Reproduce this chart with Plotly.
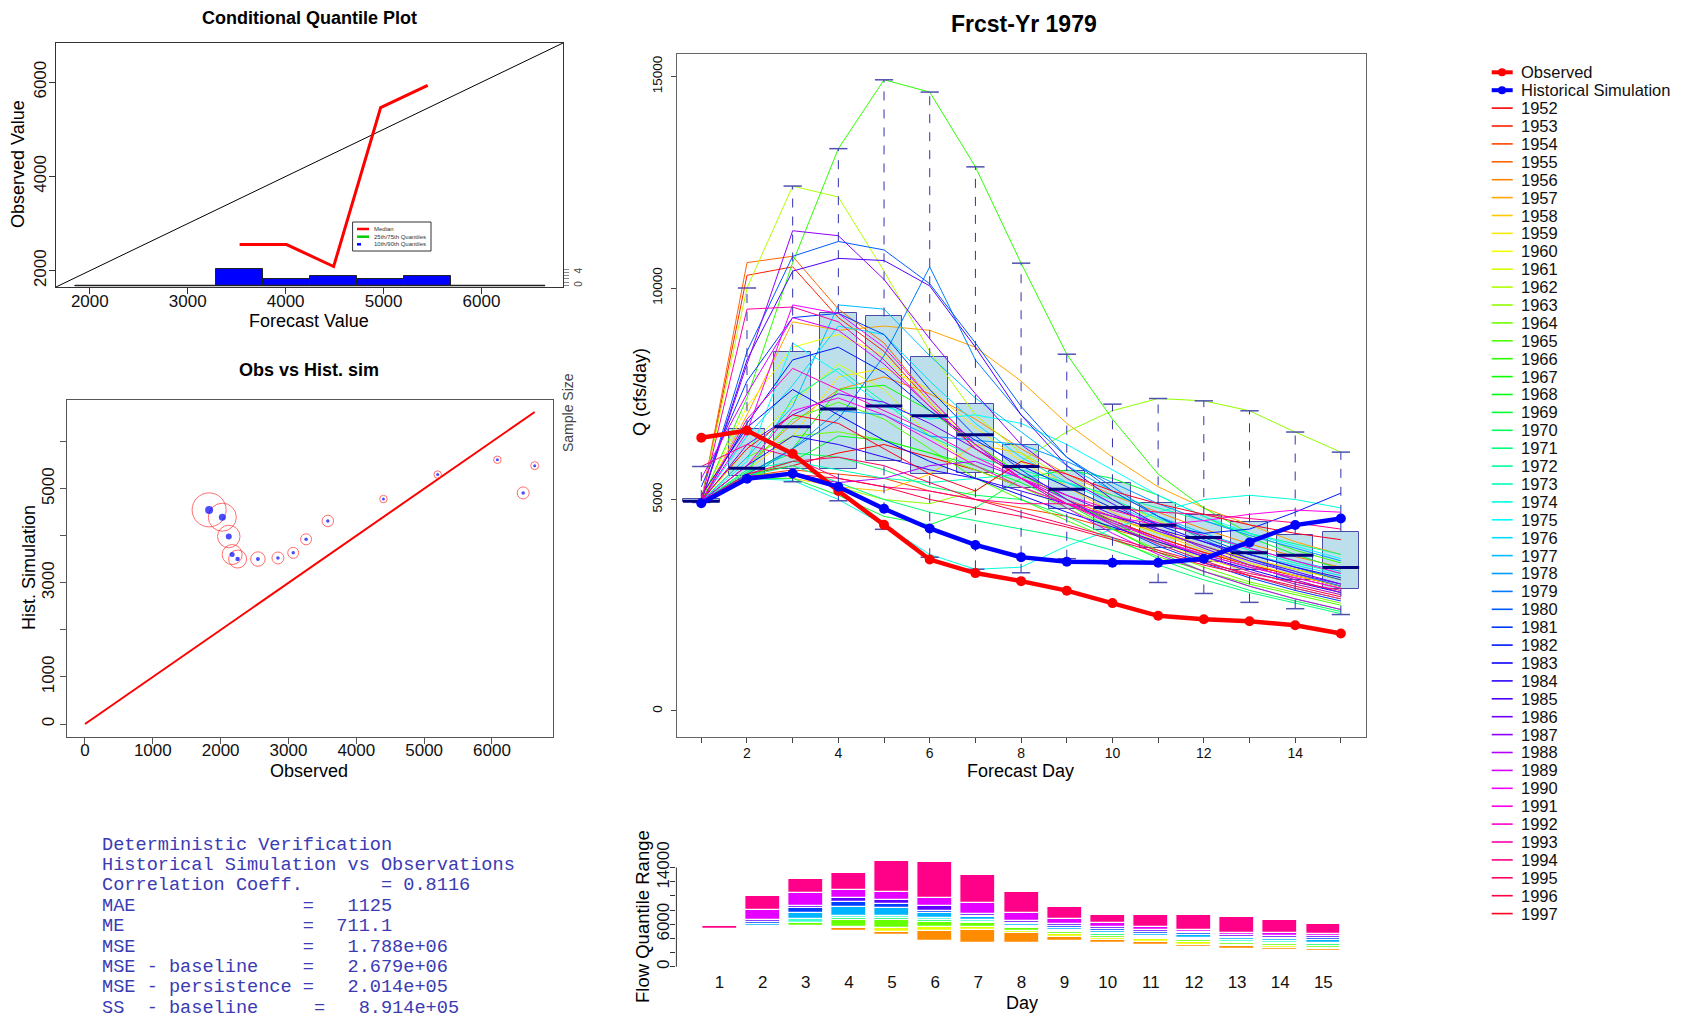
import colorsys
import plotly.graph_objects as go

W, H = 1684, 1014
FONT = "Liberation Sans, Arial, sans-serif"
MONO = "Liberation Mono, Courier New, monospace"

# ---------------- forecast days and verification series ----------------
days = list(range(1, 16))
day_ticktext = ["", "2", "", "4", "", "6", "", "8", "", "10", "", "12", "", "14", ""]
observed = [6460, 6630, 6080, 5200, 4400, 3580, 3260, 3070, 2845, 2550, 2250, 2170, 2120, 2025, 1830]
hist_sim = [4910, 5490, 5615, 5300, 4780, 4315, 3925, 3637, 3528, 3505, 3505, 3600, 3985, 4395, 4550]

# box plot statistics of the ensemble for each forecast day
ens_min = [4930, 5480, 5420, 4970, 4295, 3635, 3350, 3268, 3600, 3480, 3038, 2778, 2568, 2418, 2280]
ens_q1 = [4940, 5550, 5715, 5725, 5903, 5600, 5630, 5275, 4765, 4275, 3863, 3532, 3345, 3105, 2890]
ens_med = [4960, 5740, 6720, 7137, 7208, 6979, 6531, 5779, 5241, 4810, 4393, 4100, 3740, 3680, 3390]
ens_q3 = [5010, 6665, 8498, 9405, 9327, 8365, 7260, 6282, 5682, 5382, 4907, 4630, 4460, 4172, 4235]
ens_max = [5780, 10000, 12410, 13294, 14922, 14632, 12864, 10587, 8435, 7254, 7387, 7332, 7097, 6595, 6120]
main_yticks = [0, 5000, 10000, 15000]
main_ytext = ["0", "5000", "10000", "15000"]

# ensemble traces, one per historical year
flow_1952 = [4950, 5600, 5800, 6100, 6300, 6000, 5700, 5300, 4900, 4500, 4100, 3750, 3450, 3200, 2950]
flow_1953 = [4960, 10300, 10500, 9300, 8500, 7300, 6200, 5500, 4900, 4500, 4100, 3750, 3450, 3200, 2950]
flow_1954 = [4940, 5550, 5700, 5600, 5500, 5200, 5000, 4800, 4600, 4300, 4000, 3700, 3400, 3150, 2900]
flow_1955 = [4950, 10600, 10750, 9500, 8700, 7400, 6300, 5600, 5000, 4600, 4200, 3900, 3600, 3350, 3100]
flow_1956 = [4970, 5800, 6800, 7600, 7900, 7500, 6900, 6200, 5600, 5100, 4700, 4300, 3950, 3650, 3400]
flow_1957 = [4960, 7000, 9200, 9000, 9100, 9000, 8600, 7800, 6800, 6000, 5300, 4800, 4400, 4000, 3700]
flow_1958 = [4950, 5500, 5500, 5300, 5200, 5600, 6300, 6100, 5300, 4700, 4200, 3800, 3450, 3100, 2800]
flow_1959 = [4940, 5700, 6500, 7900, 8100, 7600, 6700, 5900, 5300, 4800, 4300, 3900, 3500, 3200, 2950]
flow_1960 = [5000, 7200, 8600, 8900, 8400, 7300, 6300, 5600, 5000, 4500, 4000, 3600, 3300, 3000, 2750]
flow_1961 = [4950, 6200, 7300, 8200, 7600, 6500, 5800, 5300, 4900, 4550, 4200, 3900, 3600, 3350, 3100]
flow_1962 = [4980, 10000, 12410, 12150, 10400, 8500, 7000, 6100, 5500, 5000, 4500, 4100, 3700, 3400, 3150]
flow_1963 = [4950, 5600, 5600, 5300, 5000, 4900, 5200, 5900, 6600, 7100, 7387, 7332, 7097, 6595, 6120]
flow_1964 = [4960, 6000, 6500, 6600, 6400, 6100, 5700, 5300, 4800, 4300, 3800, 3400, 3050, 2800, 2550]
flow_1965 = [4950, 5700, 6900, 7300, 6900, 6200, 5500, 5000, 4500, 4050, 3650, 3300, 3000, 2750, 2500]
flow_1966 = [4960, 7400, 10600, 13294, 14922, 14632, 12864, 10587, 8435, 6900, 5600, 4800, 4200, 3800, 3500]
flow_1967 = [4940, 5600, 6200, 7600, 7700, 7100, 6300, 5600, 5000, 4450, 3950, 3550, 3200, 2900, 2650]
flow_1968 = [4950, 5550, 5900, 6500, 6400, 6100, 5800, 5400, 4900, 4300, 3750, 3300, 2950, 2650, 2400]
flow_1969 = [4950, 5500, 5500, 5100, 4600, 4400, 4800, 5500, 5700, 5500, 5100, 4600, 4100, 3700, 3350]
flow_1970 = [4960, 5650, 6100, 6000, 5700, 5300, 5100, 5000, 4600, 4100, 3600, 3200, 2850, 2600, 2350]
flow_1971 = [4950, 5550, 5800, 5400, 5000, 4700, 4500, 4300, 4100, 3800, 3450, 3100, 2800, 2550, 2300]
flow_1972 = [4940, 5600, 7400, 8100, 7300, 6500, 6000, 5700, 5400, 5100, 4800, 4500, 4200, 3950, 3700]
flow_1973 = [4950, 5700, 5900, 5700, 5500, 5400, 5500, 5600, 5400, 5000, 4550, 4150, 3800, 3500, 3250]
flow_1974 = [4950, 5500, 5450, 5000, 4400, 3700, 3350, 3400, 3900, 4300, 4700, 5000, 5100, 5000, 4800]
flow_1975 = [4960, 5900, 8700, 8000, 7200, 6900, 7000, 6800, 6300, 5700, 5100, 4600, 4200, 3900, 3600]
flow_1976 = [4970, 6500, 7700, 9100, 8900, 7800, 6800, 6000, 5400, 4900, 4400, 4000, 3700, 3450, 3200]
flow_1977 = [4950, 6000, 7200, 9600, 9500, 8400, 7400, 6600, 5800, 5200, 4600, 4200, 3850, 3550, 3300]
flow_1978 = [4950, 5500, 6200, 7100, 7000, 6500, 6400, 6300, 5900, 5400, 4900, 4500, 4150, 3850, 3550]
flow_1979 = [4960, 5600, 6200, 6900, 8400, 10500, 8300, 7000, 6000, 5300, 4600, 4050, 3600, 3250, 2950]
flow_1980 = [4950, 8500, 10750, 11100, 10900, 10100, 8700, 7200, 6000, 5200, 4600, 4100, 3700, 3400, 3100]
flow_1981 = [5300, 7800, 9300, 9400, 8900, 7600, 6500, 5700, 5000, 4400, 3900, 3500, 3150, 2850, 2600]
flow_1982 = [4950, 6800, 8300, 8600, 8000, 7100, 6400, 5800, 5300, 4800, 4400, 4200, 4300, 4700, 5150]
flow_1983 = [5100, 6700, 7600, 7000, 6400, 5900, 5500, 5100, 4700, 4350, 4000, 3650, 3350, 3050, 2800]
flow_1984 = [4950, 5800, 6500, 6300, 6000, 5700, 5500, 5200, 4900, 4600, 4300, 4000, 3700, 3400, 3150]
flow_1985 = [4960, 8300, 10400, 10700, 10650, 10050, 8600, 7000, 5800, 5000, 4400, 4000, 3600, 3300, 3000]
flow_1986 = [4950, 6300, 7000, 7500, 7300, 6800, 6200, 5600, 5100, 4650, 4250, 3900, 3550, 3250, 3000]
flow_1987 = [4970, 8200, 11354, 11236, 10203, 8800, 7500, 6300, 5500, 4900, 4300, 3850, 3450, 3100, 2800]
flow_1988 = [4950, 5550, 5600, 5400, 5500, 5800, 5900, 5500, 5000, 4500, 4050, 3650, 3300, 3000, 2750]
flow_1989 = [5500, 7500, 9300, 9000, 8200, 7200, 6300, 5500, 4800, 4200, 3700, 3300, 2950, 2650, 2400]
flow_1990 = [4960, 6600, 9600, 9400, 8600, 7400, 6300, 5500, 4900, 4450, 4050, 3700, 3400, 3150, 2900]
flow_1991 = [4950, 5800, 7100, 7400, 7000, 6400, 5800, 5300, 4900, 4600, 4400, 4500, 4650, 4750, 4700]
flow_1992 = [4940, 6900, 8100, 7600, 7100, 6600, 6000, 5500, 5100, 4750, 4450, 4150, 3850, 3550, 3250]
flow_1993 = [4960, 9500, 9550, 9200, 8300, 7200, 6200, 5500, 4900, 4400, 3950, 3550, 3200, 2900, 2650]
flow_1994 = [5780, 6300, 6000, 5500, 5300, 5200, 5000, 4900, 4900, 4800, 4700, 4650, 4550, 4450, 4300]
flow_1995 = [4950, 5600, 5900, 6000, 5800, 5400, 5000, 4700, 4400, 4100, 3800, 3500, 3250, 3050, 2850]
flow_1996 = [4950, 5550, 5600, 5500, 5300, 5000, 4800, 4600, 4350, 4050, 3750, 3450, 3200, 2950, 2700]
flow_1997 = [5000, 6200, 7000, 6800, 6200, 5600, 5200, 5900, 5600, 5200, 4900, 4650, 4400, 4200, 4050]

years = list(range(1952, 1998))
ensemble = [flow_1952, flow_1953, flow_1954, flow_1955, flow_1956, flow_1957, flow_1958, flow_1959,
            flow_1960, flow_1961, flow_1962, flow_1963, flow_1964, flow_1965, flow_1966, flow_1967,
            flow_1968, flow_1969, flow_1970, flow_1971, flow_1972, flow_1973, flow_1974, flow_1975,
            flow_1976, flow_1977, flow_1978, flow_1979, flow_1980, flow_1981, flow_1982, flow_1983,
            flow_1984, flow_1985, flow_1986, flow_1987, flow_1988, flow_1989, flow_1990, flow_1991,
            flow_1992, flow_1993, flow_1994, flow_1995, flow_1996, flow_1997]

# flow quantile bands (decile boundaries) per day
q00 = [5318, 5741, 5741, 5082, 4424, 3670, 3294, 3294, 3576, 3388, 3059, 2776, 2541, 2400, 2259]
q10 = [5318, 5741, 5741, 5400, 4941, 4990, 5130, 4700, 4200, 3700, 3500, 3100, 2890, 2700, 2450]
q20 = [5318, 5741, 5741, 5553, 5506, 5650, 5650, 5100, 4600, 4094, 3859, 3480, 3060, 2900, 2700]
q30 = [5318, 5741, 6118, 6540, 6540, 6280, 6100, 5459, 4850, 4300, 4050, 3700, 3294, 3150, 2900]
q40 = [5318, 5741, 6212, 6870, 6870, 6640, 6300, 5553, 5000, 4550, 4235, 3900, 3530, 3400, 3150]
q50 = [5318, 5741, 6700, 7200, 7200, 6940, 6550, 5780, 5240, 4810, 4393, 4100, 3740, 3680, 3390]
q60 = [5318, 6071, 7577, 8420, 8330, 7624, 6950, 6024, 5459, 5050, 4600, 4420, 4000, 3850, 3700]
q70 = [5318, 6306, 8235, 9180, 8800, 7860, 7100, 6200, 5700, 5300, 4894, 4706, 4235, 4000, 4000]
q80 = [5318, 6640, 8610, 9650, 9365, 8520, 7480, 6400, 6024, 5553, 5150, 4900, 4470, 4330, 4300]
q90 = [5318, 8050, 10400, 10780, 10494, 9650, 9035, 7600, 6800, 6118, 5600, 5130, 4750, 4750, 4660]
q100 = [5741, 9977, 12424, 13270, 14965, 14730, 12941, 10589, 8377, 7247, 7247, 7247, 7012, 6541, 6024]
quantile_levels = [q00, q10, q20, q30, q40, q50, q60, q70, q80, q90, q100]
band_colors = ["#ff8c00", "#e6ff00", "#66ff00", "#00ff66", "#40ffd0",
               "#00b4ff", "#0040ff", "#6000ff", "#e600ff", "#ff0088"]
flowq_ticks = [0, 2000, 4000, 6000, 8000, 10000, 12000, 14000]
flowq_text = ["0", "", "", "6000", "", "", "", "14000"]

# conditional quantile plot
hist_edges = [1850, 2330, 2810, 3290, 3770, 4250, 4730, 5210, 5690, 6170, 6650]
hist_counts = [0, 0, 0, 5, 2, 3, 2, 3, 0, 0]
cq_fcst = [3530, 4010, 4490, 4970, 5450]
cq_median_obs = [2555, 2555, 2090, 5460, 5935]
cq_ticks = [2000, 3000, 4000, 5000, 6000]

# observed vs historical simulation scatter (one point per forecast day)
ring_size = [12, 8, 7.5, 7.5, 7.5, 11.5, 11, 11, 12, 14.5, 18, 20, 22.5, 28, 34]
dot_size = [3.5, 3, 3, 3, 3, 3.5, 3.5, 3.5, 3.5, 4, 4.5, 5, 6, 7, 8]
ovh_ticks = [0, 1000, 2000, 3000, 4000, 5000, 6000]
ovh_ytext = ["0", "1000", "", "3000", "", "5000", ""]

# verification summary text
summary_lines = [
    "Deterministic Verification",
    "Historical Simulation vs Observations",
    "Correlation Coeff.       = 0.8116",
    "MAE               =   1125",
    "ME                =  711.1",
    "MSE               =   1.788e+06",
    "MSE - baseline    =   2.679e+06",
    "MSE - persistence =   2.014e+05",
    "SS  - baseline     =   8.914e+05",
]


def rainbow(n):
    out = []
    for i in range(n):
        r, g, b = colorsys.hsv_to_rgb(i / n, 1.0, 1.0)
        out.append("#%02x%02x%02x" % (round(r * 255), round(g * 255), round(b * 255)))
    return out


def fx(px):
    return px / W


def fy(py):
    return 1 - py / H


year_colors = rainbow(len(years))

fig = go.Figure()
annotations = []
shapes = []


def label(text, x, y, size, angle=0, bold=False, color="#000", family=FONT, anchor="center"):
    annotations.append(dict(
        text=("<b>%s</b>" % text) if bold else text, x=fx(x), y=fy(y), xref="paper", yref="paper",
        showarrow=False, textangle=angle, xanchor=anchor, yanchor="middle",
        font=dict(size=size, color=color, family=family)))


# ================= Conditional Quantile Plot =================
cq_range = [1655, 6832]
fig.add_trace(go.Scatter(x=cq_range, y=cq_range, mode="lines", line=dict(color="black", width=1),
                         xaxis="x", yaxis="y", showlegend=False, hoverinfo="skip"))
fig.add_trace(go.Bar(x=[(hist_edges[i] + hist_edges[i + 1]) / 2 for i in range(len(hist_counts))],
                     y=hist_counts, width=[hist_edges[i + 1] - hist_edges[i] for i in range(len(hist_counts))],
                     marker=dict(color="blue", line=dict(color="#222", width=1)),
                     xaxis="x", yaxis="y2", showlegend=False))
fig.add_trace(go.Scatter(x=[hist_edges[0], hist_edges[-1]], y=[0, 0], mode="lines",
                         line=dict(color="#222", width=1.5), xaxis="x", yaxis="y2",
                         showlegend=False, hoverinfo="skip"))
fig.add_trace(go.Scatter(x=cq_fcst, y=cq_median_obs, mode="lines", line=dict(color="red", width=3),
                         xaxis="x", yaxis="y", showlegend=False))

# legend box inside the quantile plot
shapes.append(dict(type="rect", xref="paper", yref="paper", x0=fx(352.6), x1=fx(431), y0=fy(251), y1=fy(222),
                   line=dict(color="#333", width=1), fillcolor="white"))
for yy, col, dash, txt in [(229, "red", "solid", "Median"),
                           (236.7, "#00cc00", "solid", "25th/75th Quantiles"),
                           (244.3, "blue", "dot", "10th/90th Quantiles")]:
    shapes.append(dict(type="line", xref="paper", yref="paper", x0=fx(357), x1=fx(369) if dash == "solid" else fx(361),
                       y0=fy(yy), y1=fy(yy), line=dict(color=col, width=2.5)))
    label(txt, 372, yy, 6, color="#333", anchor="left")

label("Conditional Quantile Plot", 309, 18, 18, bold=True)
label("Forecast Value", 309, 321, 18)
label("Observed Value", 18, 164, 18, angle=-90)

# ================= Obs vs Hist. sim =================
ovh_end = max(observed)
fig.add_trace(go.Scatter(x=[0, ovh_end], y=[0, ovh_end], mode="lines", line=dict(color="red", width=2),
                         xaxis="x2", yaxis="y3", showlegend=False))
fig.add_trace(go.Scatter(x=observed, y=hist_sim, mode="markers",
                         marker=dict(size=ring_size, color="rgba(0,0,0,0)", line=dict(color="#ff3030", width=1)),
                         xaxis="x2", yaxis="y3", showlegend=False))
fig.add_trace(go.Scatter(x=observed, y=hist_sim, mode="markers",
                         marker=dict(size=dot_size, color="blue", line=dict(width=0)),
                         xaxis="x2", yaxis="y3", showlegend=False))
label("Obs vs Hist. sim", 309, 370, 18, bold=True)
label("Observed", 309, 771, 18)
label("Hist. Simulation", 29, 568, 18, angle=-90)
label("Sample Size", 568, 413, 14, angle=-90, color="#444")

# ================= Verification summary =================
for i, line in enumerate(summary_lines):
    label(line.replace(" ", "\u00a0"), 100, 845 + i * 20.4, 18.6, color="#3b3bb3", family=MONO, anchor="left")

# ================= Main ensemble plot =================
for yr, col, vals in zip(years, year_colors, ensemble):
    fig.add_trace(go.Scatter(x=days, y=vals, mode="lines", line=dict(color=col, width=1),
                             xaxis="x3", yaxis="y4", showlegend=False, name=str(yr)))

fig.add_trace(go.Bar(x=days, base=ens_q1, y=[b - a for a, b in zip(ens_q1, ens_q3)], width=0.8,
                     marker=dict(color="rgba(173,216,230,0.82)", line=dict(color="#4a4aa8", width=1)),
                     xaxis="x3", yaxis="y4", showlegend=False))


def segs(xc, yv, half):
    xs, ys = [], []
    for x, y in zip(xc, yv):
        xs += [x - half, x + half, None]
        ys += [y, y, None]
    return xs, ys


def vsegs(xc, y0, y1):
    xs, ys = [], []
    for x, a, b in zip(xc, y0, y1):
        xs += [x, x, None]
        ys += [a, b, None]
    return xs, ys


wx, wy = vsegs(days, ens_q3, ens_max)
fig.add_trace(go.Scatter(x=wx, y=wy, mode="lines", line=dict(color="#3030b0", width=1, dash="dash"),
                         xaxis="x3", yaxis="y4", showlegend=False, hoverinfo="skip"))
wx, wy = vsegs(days, ens_min, ens_q1)
fig.add_trace(go.Scatter(x=wx, y=wy, mode="lines", line=dict(color="#3030b0", width=1, dash="dash"),
                         xaxis="x3", yaxis="y4", showlegend=False, hoverinfo="skip"))
for arr in (ens_max, ens_min):
    cx, cy = segs(days, arr, 0.2)
    fig.add_trace(go.Scatter(x=cx, y=cy, mode="lines", line=dict(color="#5050b0", width=1.5),
                             xaxis="x3", yaxis="y4", showlegend=False, hoverinfo="skip"))
mx, my = segs(days, ens_med, 0.4)
fig.add_trace(go.Scatter(x=mx, y=my, mode="lines", line=dict(color="#000080", width=3),
                         xaxis="x3", yaxis="y4", showlegend=False, hoverinfo="skip"))

fig.add_trace(go.Scatter(x=days, y=observed, mode="lines+markers", line=dict(color="red", width=4.5),
                         marker=dict(size=10, color="red"), xaxis="x3", yaxis="y4", showlegend=False))
fig.add_trace(go.Scatter(x=days, y=hist_sim, mode="lines+markers", line=dict(color="blue", width=4.5),
                         marker=dict(size=10, color="blue"), xaxis="x3", yaxis="y4", showlegend=False))

label("Frcst-Yr 1979", 1024, 24, 23, bold=True)
label("Forecast Day", 1021, 771, 18)
label("Q (cfs/day)", 640, 392, 18, angle=-90)

# ================= Flow quantile range bars =================
for k in range(len(band_colors)):
    lo, hi = quantile_levels[k], quantile_levels[k + 1]
    fig.add_trace(go.Bar(x=days, base=lo, y=[b - a for a, b in zip(lo, hi)], width=0.81,
                         marker=dict(color=band_colors[k], line=dict(color="white", width=1.2)),
                         xaxis="x4", yaxis="y5", showlegend=False))
shapes.append(dict(type="line", xref="x4 domain", yref="y5", x0=0, x1=0, y0=0, y1=14000,
                   line=dict(color="#333", width=1)))
label("Day", 1022, 1003, 18)
label("Flow Quantile Range", 642, 917, 18.5, angle=-90)

# ================= Legend =================
legend_items = [("Observed", "red", True), ("Historical Simulation", "blue", True)] + \
               [(str(y), c, False) for y, c in zip(years, year_colors)]
for i, (txt, col, thick) in enumerate(legend_items):
    yc = 72.3 + i * 17.9
    shapes.append(dict(type="line", xref="paper", yref="paper", x0=fx(1491.7), x1=fx(1512.7),
                       y0=fy(yc), y1=fy(yc), line=dict(color=col, width=4 if thick else 1.6)))
    if thick:
        shapes.append(dict(type="circle", xref="paper", yref="paper", x0=fx(1498), x1=fx(1506),
                           y0=fy(yc + 4), y1=fy(yc - 4), fillcolor=col, line=dict(color=col, width=0)))
    label(txt, 1519, yc, 16.5, color="#111", anchor="left")

# ================= Axes =================
tick_font = dict(family=FONT, size=17, color="#111")
box_axis = dict(showgrid=False, zeroline=False, showline=True, mirror=True, ticks="outside",
                ticklen=6, tickwidth=1, automargin=False)

fig.update_layout(
    width=W, height=H, margin=dict(l=0, r=0, t=0, b=0, pad=0, autoexpand=False),
    paper_bgcolor="white", plot_bgcolor="white", barmode="overlay", bargap=0,
    showlegend=False, font=dict(family=FONT),
    xaxis=dict(**box_axis, domain=[fx(56), fx(563)], range=cq_range, anchor="y", tickvals=cq_ticks,
               linecolor="#333", tickcolor="#333", tickfont=tick_font, ticklabelstandoff=-7),
    yaxis=dict(**box_axis, domain=[fy(287), fy(43)], range=cq_range, anchor="x", tickvals=[2000, 4000, 6000],
               linecolor="#333", tickcolor="#333", tickfont=tick_font, tickangle=-90, ticklabelstandoff=-4),
    yaxis2=dict(overlaying="y", side="right", anchor="x", range=[-0.45, 73.5], showgrid=False, zeroline=False,
                showline=False, ticks="outside", ticklen=5, tickcolor="#888", tickvals=[0, 1, 2, 3, 4, 5],
                ticktext=["0", "", "", "", "4", ""], tickangle=-90, automargin=False,
                tickfont=dict(family=FONT, size=10, color="#444"), ticklabelstandoff=1),
    xaxis2=dict(**box_axis, domain=[fx(66.6), fx(553)], range=[-271, 6900], anchor="y3", tickvals=ovh_ticks,
                linecolor="#555", tickcolor="#555", tickfont=tick_font, ticklabelstandoff=-8),
    yaxis3=dict(**box_axis, domain=[fy(737), fy(400)], range=[-276, 6885], anchor="x2", tickvals=ovh_ticks,
                ticktext=ovh_ytext, linecolor="#555", tickcolor="#555", tickfont=tick_font, tickangle=-90,
                ticklabelstandoff=-1),
    xaxis3=dict(showgrid=False, zeroline=False, showline=True, mirror=True, ticks="outside", ticklen=5,
                domain=[fx(677), fx(1366)], range=[0.468, 15.55], anchor="y4", tickvals=days, automargin=False,
                ticktext=day_ticktext, linecolor="#666", tickcolor="#444",
                tickfont=dict(family=FONT, size=14, color="#111"), ticklabelstandoff=-2),
    yaxis4=dict(showgrid=False, zeroline=False, showline=True, mirror=True, ticks="outside", ticklen=5,
                domain=[fy(737), fy(54)], range=[-615, 15532], anchor="x3", automargin=False,
                tickvals=main_yticks, ticktext=main_ytext, linecolor="#666", tickcolor="#444",
                tickfont=dict(family=FONT, size=13.5, color="#111"), tickangle=-90, ticklabelstandoff=4),
    xaxis4=dict(showgrid=False, zeroline=False, showline=False, ticks="", domain=[fx(676.4), fx(1366.5)],
                range=[0, 16], anchor="y5", tickvals=days, tickfont=dict(family=FONT, size=17, color="#111"),
                ticklabelstandoff=-5, automargin=False),
    yaxis5=dict(showgrid=False, zeroline=False, showline=False, ticks="outside", ticklen=5, tickcolor="#333",
                domain=[fy(975), fy(850)], range=[-1171, 16471], anchor="x4", tickvals=flowq_ticks,
                ticktext=flowq_text, tickangle=-90, tickfont=dict(family=FONT, size=17, color="#111"),
                ticklabelstandoff=-5, automargin=False),
    annotations=annotations, shapes=shapes,
)

fig.write_html("out.html")
